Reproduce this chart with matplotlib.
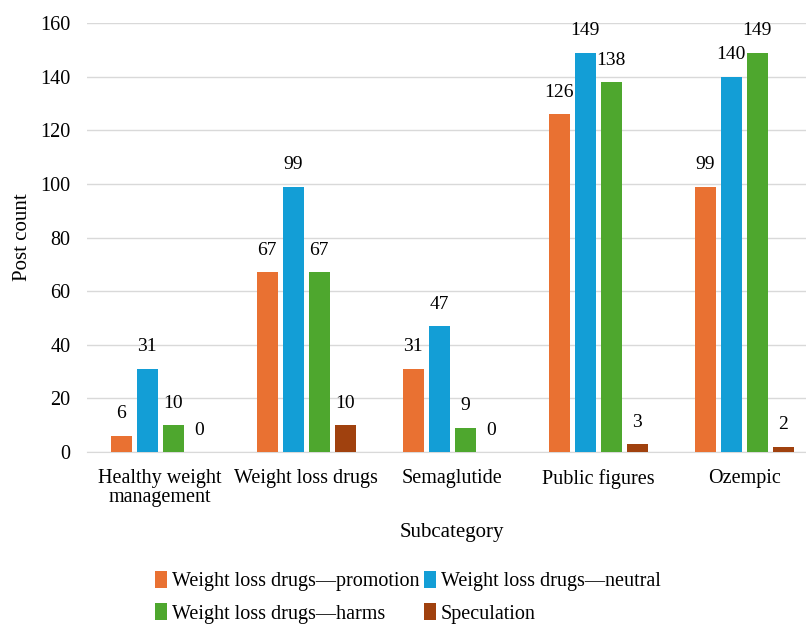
import numpy as np
import matplotlib
matplotlib.use("Agg")
import matplotlib.pyplot as plt

plt.rcParams['font.family'] = ['Liberation Serif', 'DejaVu Serif']

categories = ["Healthy weight\nmanagement", "Weight loss drugs", "Semaglutide",
              "Public figures", "Ozempic"]
series_names = ["Weight loss drugs\u2014promotion", "Weight loss drugs\u2014neutral",
                "Weight loss drugs\u2014harms", "Speculation"]
promotion = [6, 67, 31, 126, 99]
neutral = [31, 99, 47, 149, 140]
harms = [10, 67, 9, 138, 149]
speculation = [0, 10, 0, 3, 2]
colors = ["#E97132", "#139ED6", "#4EA72E", "#A0410E"]

fig = plt.figure(figsize=(8.06, 6.31), dpi=100)
ax = fig.add_axes([0.108, 0.2837, 0.906, 0.6798])

x = np.arange(len(categories))
width = 0.144
step = 0.178
all_series = [promotion, neutral, harms, speculation]
handles = []
for i, (vals, name, c) in enumerate(zip(all_series, series_names, colors)):
    pos = x + (i - 1.5) * step
    bars = ax.bar(pos, vals, width, color=c, label=name, zorder=3)
    handles.append(bars)
    for b, v in zip(bars, vals):
        ax.text(b.get_x() + b.get_width() / 2, v + 5, str(v),
                ha='center', va='bottom', fontsize=14)

ax.set_xlim(-0.5, len(categories) - 0.5)
ax.set_ylim(0, 160)
ax.set_yticks(range(0, 161, 20))
ax.set_xticks(x)
ax.set_xticklabels(categories, fontsize=14.5, linespacing=1.05)
ax.tick_params(axis='both', length=0, labelsize=14.5)
ax.tick_params(axis='x', pad=12)
ax.tick_params(axis='y', pad=12)
ax.grid(axis='y', color='#D9D9D9', linewidth=1, zorder=0)
for s in ['top', 'right', 'left']:
    ax.spines[s].set_visible(False)
ax.spines['bottom'].set_color('#D9D9D9')

ax.set_ylabel("Post count", fontsize=15, labelpad=6)
ax.set_xlabel("Subcategory", fontsize=15, labelpad=11)

# matplotlib fills legend columns first, so reorder to read row by row
order = [0, 2, 1, 3]
fig.legend([handles[k] for k in order], [series_names[k] for k in order],
           loc='lower left', bbox_to_anchor=(0.17, -0.017), ncol=2,
           frameon=False, fontsize=14.5, handlelength=0.6, handleheight=0.9,
           handletextpad=0.25, columnspacing=0.2, labelspacing=0.6)

fig.savefig("out.png", dpi=100)
